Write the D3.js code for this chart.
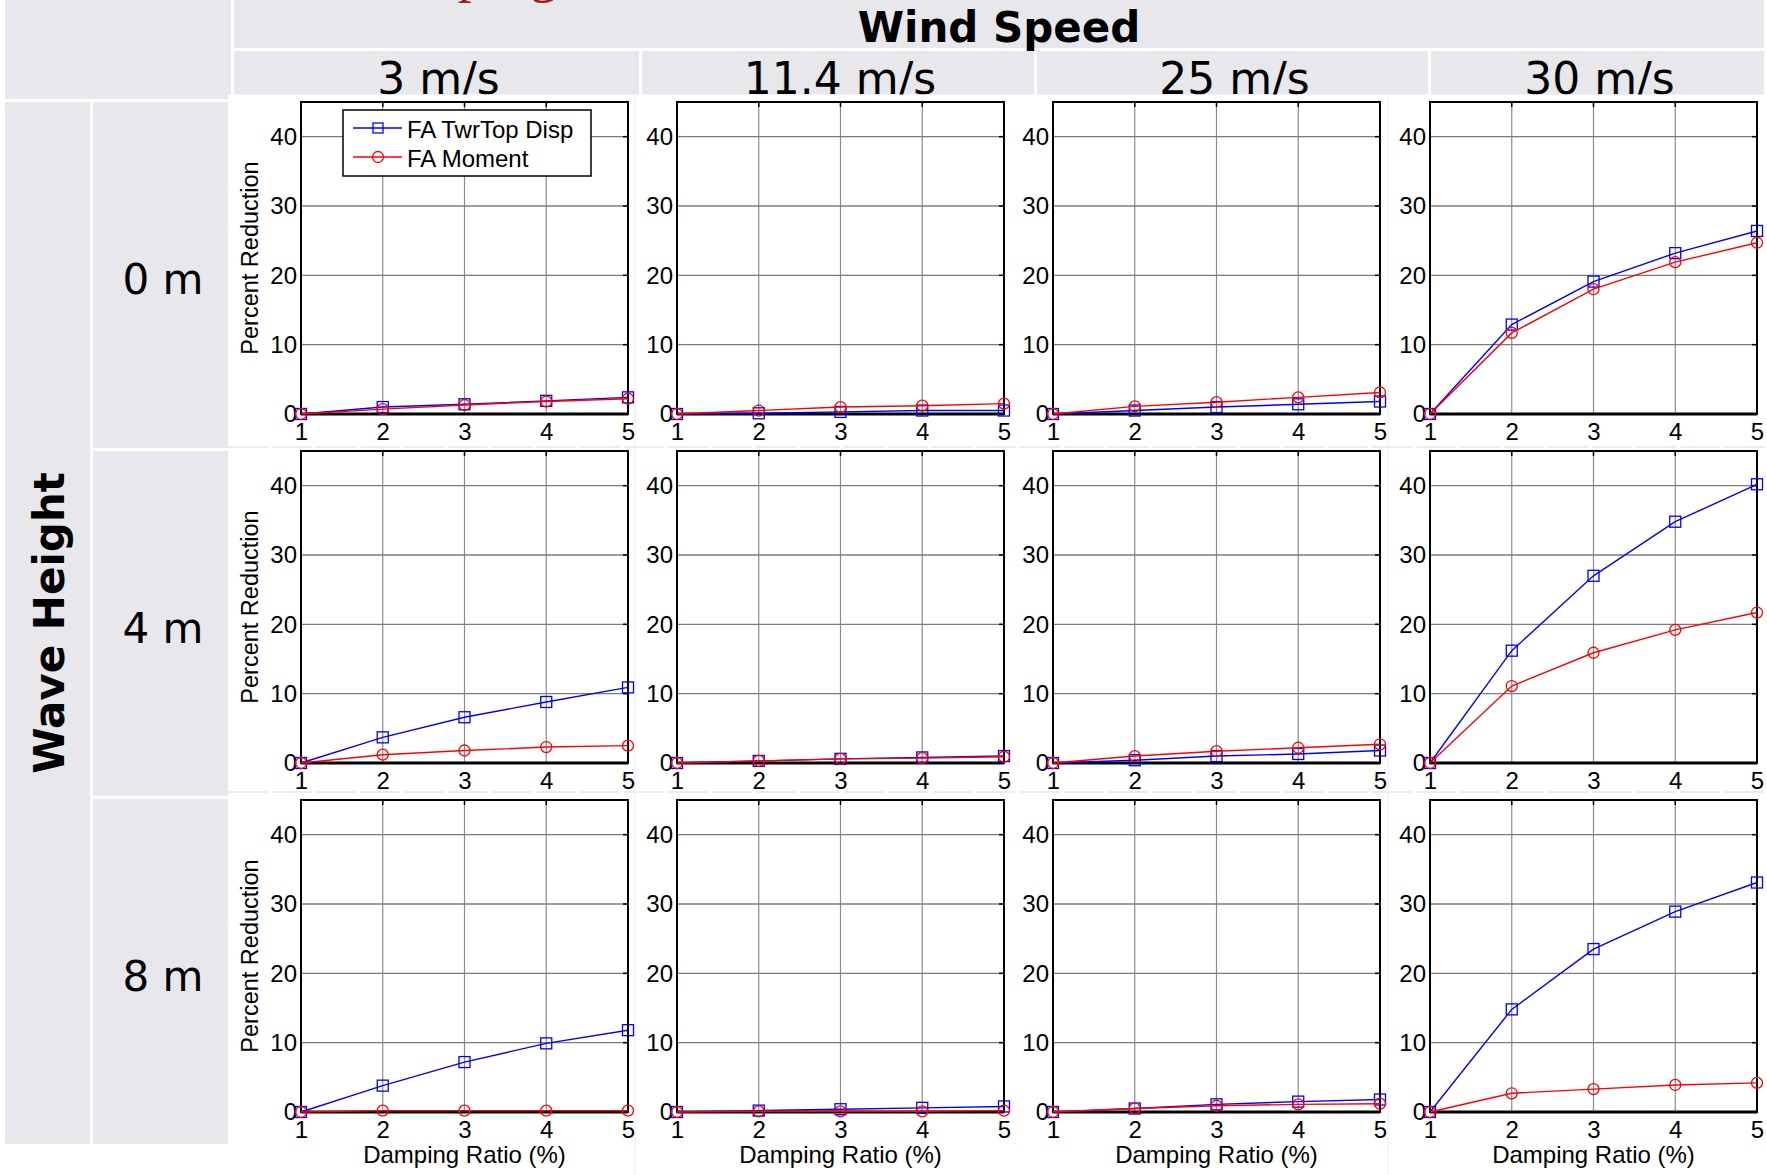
<!DOCTYPE html>
<html>
<head>
<meta charset="utf-8">
<script src="https://cdn.jsdelivr.net/npm/d3@7"></script>
<style>
  body { margin: 0; background: #fff; }
  svg { display: block; }
  .tick text { font-family: "Liberation Sans", Arial, sans-serif; font-size: 24px; fill: #000; }
</style>
</head>
<body>
<script>
const width = 1767;
const height = 1175;

const windSpeeds = ['3 m/s', '11.4 m/s', '25 m/s', '30 m/s'];
const waveHeights = ['0 m', '4 m', '8 m'];
const dampingRatios = [1, 2, 3, 4, 5];
const yTicks = [0, 10, 20, 30, 40];
const seriesNames = ['FA TwrTop Disp', 'FA Moment'];

// one row per wind speed, values at damping ratio 1..5
const twrTopDisp0m = [
  [0, 1.0, 1.4, 1.9, 2.4],
  [0, 0.1, 0.3, 0.5, 0.5],
  [0, 0.5, 1.0, 1.4, 1.8],
  [0, 12.9, 19.1, 23.2, 26.4]
];
const moment0m = [
  [0, 0.7, 1.3, 1.8, 2.2],
  [0, 0.5, 1.0, 1.2, 1.5],
  [0, 1.1, 1.7, 2.4, 3.1],
  [0, 11.7, 18.0, 21.9, 24.7]
];
const twrTopDisp4m = [
  [0, 3.7, 6.6, 8.8, 10.9],
  [0, 0.3, 0.6, 0.8, 1.0],
  [0, 0.4, 1.0, 1.3, 1.8],
  [0, 16.2, 27.0, 34.8, 40.2]
];
const moment4m = [
  [0, 1.2, 1.8, 2.3, 2.5],
  [0, 0.3, 0.6, 0.7, 0.9],
  [0, 1.0, 1.7, 2.2, 2.7],
  [0, 11.1, 15.9, 19.2, 21.7]
];
const twrTopDisp8m = [
  [0, 3.8, 7.2, 9.9, 11.8],
  [0, 0.2, 0.4, 0.6, 0.8],
  [0, 0.5, 1.1, 1.5, 1.8],
  [0, 14.8, 23.5, 28.9, 33.1]
];
const moment8m = [
  [0, 0.2, 0.2, 0.2, 0.2],
  [0, 0.1, 0.1, 0.1, 0.2],
  [0, 0.5, 0.9, 1.1, 1.2],
  [0, 2.7, 3.3, 3.9, 4.2]
];

const dispByWave = [twrTopDisp0m, twrTopDisp4m, twrTopDisp8m];
const momentByWave = [moment0m, moment4m, moment8m];

const grey = '#e7e7ec';
const panelFont = '"Liberation Sans", Arial, sans-serif';
const headFont = '"DejaVu Sans", Verdana, sans-serif';

const svg = d3.select('body').append('svg')
  .attr('width', width)
  .attr('height', height);

// table cells behind the plots
const colCells = [[234, 639], [642, 1034], [1037, 1428], [1431, 1764]];
const rowCells = [[102, 448], [451, 796], [799, 1144]];

svg.append('rect').attr('x', 5).attr('y', 0).attr('width', 226).attr('height', 99).attr('fill', grey);
svg.append('rect').attr('x', 234).attr('y', 0).attr('width', 1530).attr('height', 48).attr('fill', grey);
svg.append('rect').attr('x', 5).attr('y', 102).attr('width', 85).attr('height', 1042).attr('fill', grey);

svg.selectAll('rect.colhead')
  .data(colCells)
  .enter()
  .append('rect')
  .attr('class', 'colhead')
  .attr('x', d => d[0])
  .attr('y', 51)
  .attr('width', d => d[1] - d[0])
  .attr('height', 48)
  .attr('fill', grey);

svg.selectAll('rect.rowhead')
  .data(rowCells)
  .enter()
  .append('rect')
  .attr('class', 'rowhead')
  .attr('x', 93)
  .attr('y', d => d[0])
  .attr('width', 138)
  .attr('height', d => d[1] - d[0])
  .attr('fill', grey);

// title of the slide, cut off by the top edge as in the original
svg.append('text')
  .attr('x', 349)
  .attr('y', -9)
  .attr('font-family', '"Liberation Serif", serif')
  .attr('font-size', 56)
  .attr('fill', '#9b1c1c')
  .text('Damping');

svg.append('text')
  .attr('x', 999)
  .attr('y', 42)
  .attr('text-anchor', 'middle')
  .attr('font-family', headFont)
  .attr('font-weight', 'bold')
  .attr('font-size', 42)
  .text('Wind Speed');

svg.append('text')
  .attr('transform', 'translate(64, 623) rotate(-90)')
  .attr('text-anchor', 'middle')
  .attr('font-family', headFont)
  .attr('font-weight', 'bold')
  .attr('font-size', 42)
  .text('Wave Height');

svg.selectAll('text.colhead')
  .data(windSpeeds)
  .enter()
  .append('text')
  .attr('class', 'colhead')
  .attr('x', (d, i) => (colCells[i][0] + colCells[i][1]) / 2 + 2)
  .attr('y', 94)
  .attr('text-anchor', 'middle')
  .attr('font-family', headFont)
  .attr('font-size', 44)
  .text(d => d);

svg.selectAll('text.rowhead')
  .data(waveHeights)
  .enter()
  .append('text')
  .attr('class', 'rowhead')
  .attr('x', 163)
  .attr('y', (d, i) => (rowCells[i][0] + rowCells[i][1]) / 2 + 19)
  .attr('text-anchor', 'middle')
  .attr('font-family', headFont)
  .attr('font-size', 42)
  .text(d => d);

// white plot area
svg.append('rect').attr('x', 228).attr('y', 94.5).attr('width', width - 228).attr('height', height - 94.5).attr('fill', '#fff');

// faint edges between the plot images
[635, 1388].forEach((xx) => {
  svg.append('line').attr('x1', xx).attr('x2', xx).attr('y1', 95).attr('y2', 1175)
    .attr('stroke', '#ececec').attr('stroke-width', 1);
});
[447, 792].forEach((yy) => {
  svg.append('line').attr('x1', 228).attr('x2', width).attr('y1', yy).attr('y2', yy)
    .attr('stroke', '#e6e6e6').attr('stroke-width', 1.5).attr('stroke-dasharray', '40 4');
});

const plotW = 327;
const plotH = 312;
const rowTop = [102, 451, 800];
const colLeft = [301, 677, 1053, 1430];

const x = d3.scaleLinear().domain([1, 5]).range([0, plotW]);
const y = d3.scaleLinear().domain([0, 45]).range([plotH, 0]);

const line = d3.line()
  .x((d, i) => x(dampingRatios[i]))
  .y(d => y(d));

function drawSeries(g, values, color, shape) {
  g.append('path')
    .attr('d', line(values))
    .attr('fill', 'none')
    .attr('stroke', color)
    .attr('stroke-width', 1.4);
  const pts = values.map((v, i) => ({ x: dampingRatios[i], v }));
  if (shape === 'square') {
    g.selectAll(null)
      .data(pts)
      .enter()
      .append('rect')
      .attr('x', d => x(d.x) - 5.5)
      .attr('y', d => y(d.v) - 5.5)
      .attr('width', 11)
      .attr('height', 11)
      .attr('fill', 'none')
      .attr('stroke', color)
      .attr('stroke-width', 1.3);
  } else {
    g.selectAll(null)
      .data(pts)
      .enter()
      .append('circle')
      .attr('cx', d => x(d.x))
      .attr('cy', d => y(d.v))
      .attr('r', 5.5)
      .attr('fill', 'none')
      .attr('stroke', color)
      .attr('stroke-width', 1.3);
  }
}

waveHeights.forEach((wave, r) => {
  windSpeeds.forEach((wind, c) => {
    const g = svg.append('g')
      .attr('transform', `translate(${colLeft[c]}, ${rowTop[r]})`);

    // grid
    g.append('g').selectAll('line')
      .data(dampingRatios.slice(1, -1))
      .enter()
      .append('line')
      .attr('x1', d => x(d)).attr('x2', d => x(d))
      .attr('y1', 0).attr('y2', plotH)
      .attr('stroke', '#8c8c8c')
      .attr('stroke-width', 1.2);
    g.append('g').selectAll('line')
      .data(yTicks.slice(1))
      .enter()
      .append('line')
      .attr('x1', 0).attr('x2', plotW)
      .attr('y1', d => y(d)).attr('y2', d => y(d))
      .attr('stroke', '#7c7c7c')
      .attr('stroke-width', 1.4);

    // inner ticks on top and right edges
    g.append('g').selectAll('line')
      .data(dampingRatios)
      .enter()
      .append('line')
      .attr('x1', d => x(d)).attr('x2', d => x(d))
      .attr('y1', 0).attr('y2', 5)
      .attr('stroke', '#000')
      .attr('stroke-width', 1.5);
    g.append('g').selectAll('line')
      .data(yTicks)
      .enter()
      .append('line')
      .attr('x1', plotW - 5).attr('x2', plotW)
      .attr('y1', d => y(d)).attr('y2', d => y(d))
      .attr('stroke', '#000')
      .attr('stroke-width', 1.5);

    g.append('rect')
      .attr('width', plotW)
      .attr('height', plotH)
      .attr('fill', 'none')
      .attr('stroke', '#000')
      .attr('stroke-width', 2);
    g.append('line')
      .attr('x1', 0).attr('x2', plotW)
      .attr('y1', plotH).attr('y2', plotH)
      .attr('stroke', '#000')
      .attr('stroke-width', 3);

    g.append('g')
      .attr('transform', `translate(0, ${plotH})`)
      .call(d3.axisBottom(x).tickValues(dampingRatios).tickFormat(d3.format('d')).tickSize(0).tickPadding(9))
      .call(a => a.select('.domain').remove());

    g.append('g')
      .call(d3.axisLeft(y).tickValues(yTicks).tickSize(0).tickPadding(4))
      .call(a => a.select('.domain').remove());

    drawSeries(g, dispByWave[r][c], '#0000ff', 'square');
    drawSeries(g, momentByWave[r][c], '#ff0000', 'circle');

    if (c === 0) {
      g.append('text')
        .attr('transform', `translate(-43, ${plotH / 2}) rotate(-90)`)
        .attr('text-anchor', 'middle')
        .attr('font-family', panelFont)
        .attr('font-size', 23.5)
        .text('Percent Reduction');
    }
    if (r === waveHeights.length - 1) {
      g.append('text')
        .attr('x', plotW / 2)
        .attr('y', plotH + 51)
        .attr('text-anchor', 'middle')
        .attr('font-family', panelFont)
        .attr('font-size', 24)
        .text('Damping Ratio (%)');
    }

    if (r === 0 && c === 0) {
      const lg = g.append('g').attr('transform', 'translate(42, 8)');
      lg.append('rect')
        .attr('width', 248)
        .attr('height', 66)
        .attr('fill', '#fff')
        .attr('stroke', '#000')
        .attr('stroke-width', 1.5);
      const colors = ['#0000ff', '#ff0000'];
      seriesNames.forEach((name, i) => {
        const ly = 18 + i * 29;
        lg.append('line')
          .attr('x1', 10).attr('x2', 59)
          .attr('y1', ly).attr('y2', ly)
          .attr('stroke', colors[i])
          .attr('stroke-width', 1.4);
        if (i === 0) {
          lg.append('rect')
            .attr('x', 30).attr('y', ly - 5)
            .attr('width', 10).attr('height', 10)
            .attr('fill', 'none').attr('stroke', colors[i]).attr('stroke-width', 1.3);
        } else {
          lg.append('circle')
            .attr('cx', 35).attr('cy', ly)
            .attr('r', 5.5)
            .attr('fill', 'none').attr('stroke', colors[i]).attr('stroke-width', 1.3);
        }
        lg.append('text')
          .attr('x', 64)
          .attr('y', ly + 10)
          .attr('font-family', panelFont)
          .attr('font-size', 24)
          .text(name);
      });
    }
  });
});
</script>
</body>
</html>
